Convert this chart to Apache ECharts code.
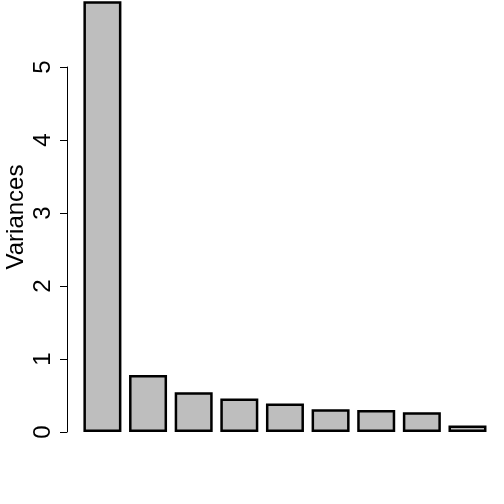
<!DOCTYPE html>
<html><head><meta charset="utf-8">
<script src="https://cdn.jsdelivr.net/npm/echarts@6/dist/echarts.min.js"></script>
<style>html,body{margin:0;padding:0;background:#fff}#c{width:504px;height:504px}</style>
</head><body><div id="c"></div>
<script>
var categories = ['Comp.1','Comp.2','Comp.3','Comp.4','Comp.5','Comp.6','Comp.7','Comp.8','Comp.9'];
var variances = [5.90, 0.78, 0.545, 0.46, 0.39, 0.31, 0.30, 0.27, 0.09];
var yTicks = [0, 1, 2, 3, 4, 5];
var yTitle = 'Variances';

var chart = echarts.init(document.getElementById('c'), null, {renderer:'canvas'});
chart.setOption({
  animation: false,
  backgroundColor: '#ffffff',
  grid: {left: 79.6, right: 13.7, top: 67, bottom: 72},
  xAxis: {
    type: 'category', data: categories,
    axisLine: {show: false}, axisTick: {show: false}, axisLabel: {show: false}
  },
  yAxis: {
    type: 'value', min: yTicks[0], max: yTicks[yTicks.length-1], interval: 1,
    offset: 12.6,
    axisLine: {show: true, lineStyle: {color: '#000', width: 1}},
    axisTick: {show: true, inside: false, length: 7, lineStyle: {color: '#000', width: 1}},
    splitLine: {show: false},
    axisLabel: {rotate: 90, margin: 12, color: '#000', fontSize: 24,
      fontFamily: 'Liberation Sans, Arial, sans-serif'}
  },
  graphic: [{
    type: 'text', x: 16, y: 217, rotation: Math.PI/2,
    style: {text: yTitle, fill: '#000', fontSize: 24, fontFamily: 'Liberation Sans, Arial, sans-serif',
      textAlign: 'center', textVerticalAlign: 'middle'}
  }],
  series: [{
    type: 'bar', data: variances, barWidth: 38, clip: false,
    itemStyle: {color: '#BEBEBE', borderColor: '#000', borderWidth: 2.5}
  }]
});
</script></body></html>
